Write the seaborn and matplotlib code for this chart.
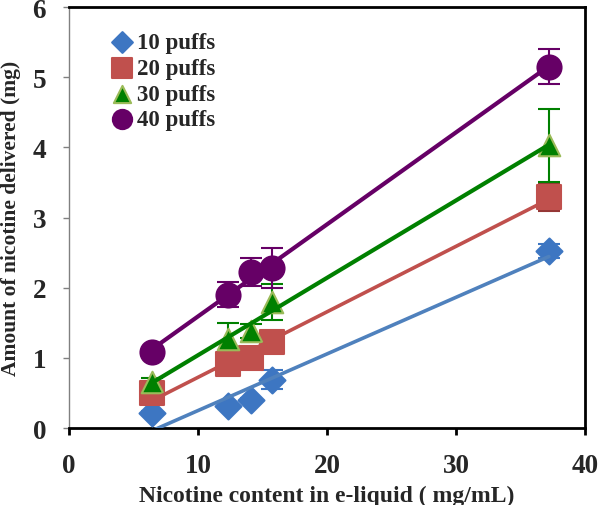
import numpy as np
import pandas as pd
import seaborn as sns
import matplotlib.pyplot as plt

# nicotine content of the e-liquids (mg/mL)
conc = [6.4, 12.3, 14.1, 15.7, 37.2]

# amount of nicotine delivered (mg) and error bars, per number of puffs
puffs10 = [0.21, 0.31, 0.40, 0.69, 2.52]
puffs10_err = [0.03, 0.03, 0.03, 0.14, 0.10]
puffs20 = [0.50, 0.92, 1.00, 1.23, 3.30]
puffs20_err = [0.05, 0.08, 0.05, 0.10, 0.20]
puffs30 = [0.65, 1.27, 1.38, 1.80, 4.03]
puffs30_err = [0.07, 0.23, 0.10, 0.26, 0.52]
puffs40 = [1.08, 1.90, 2.23, 2.28, 5.15]
puffs40_err = [0.03, 0.18, 0.20, 0.28, 0.25]

labels = ["10 puffs", "20 puffs", "30 puffs", "40 puffs"]

sns.set_style("white")
plt.rcParams['font.family'] = ['Liberation Serif', 'DejaVu Serif']
plt.rcParams['font.weight'] = 'bold'

fig = plt.figure(figsize=(6, 5.06), dpi=100)
ax = fig.add_axes([0.115, 0.152, 0.86, 0.832])

series = [
    # values, errors, marker, size, face, edge, line colour, line width, err colour
    (puffs10, puffs10_err, "D", 175, "#3D76C2", "#3D76C2", "#4F81BD", 2.6, "#3D76C2"),
    (puffs20, puffs20_err, "s", 320, "#C0504D", "#C0504D", "#C0504D", 2.6, "#953735"),
    (puffs30, puffs30_err, "^", 240, "#008000", "#9BBB59", "#008000", 3.0, "#008000"),
    (puffs40, puffs40_err, "o", 300, "#660066", "#660066", "#660066", 3.0, "#660066"),
]

for (vals, errs, mk, sz, fc, ec, lc, lw, erc), lab in zip(series, labels):
    df = pd.DataFrame({"conc": conc, "amount": vals})
    ax.errorbar(df["conc"], df["amount"], yerr=errs, fmt="none", ecolor=erc,
                elinewidth=1.5, capsize=8, capthick=1.5, zorder=2)
    sns.scatterplot(data=df, x="conc", y="amount", marker=mk, s=sz, color=fc,
                    edgecolor=ec, linewidth=1.5, label=lab, ax=ax, zorder=3)
    sns.regplot(data=df, x="conc", y="amount", scatter=False, ci=None,
                truncate=True, color=lc, line_kws={"lw": lw, "zorder": 4}, ax=ax)

ax.set_xlim(0, 40)
ax.set_ylim(0, 6)
ax.set_xticks([0, 10, 20, 30, 40])
ax.set_yticks([0, 1, 2, 3, 4, 5, 6])

ax.set_xlabel("Nicotine content in e-liquid ( mg/mL)", fontsize=17,
              fontweight="bold", labelpad=5)
ax.set_ylabel("Amount of nicotine delivered (mg)", fontsize=15.5,
              fontweight="bold", labelpad=8)

ax.tick_params(axis="x", direction="out", length=5, width=2, color="black",
               labelsize=19.5, pad=13, bottom=True)
ax.tick_params(axis="y", direction="out", length=4.5, width=1, color="#808080",
               labelsize=19.5, pad=12, left=True)
for lab in ax.get_xticklabels() + ax.get_yticklabels():
    lab.set_fontweight("bold")

for side in ["top", "right", "bottom"]:
    ax.spines[side].set_color("black")
    ax.spines[side].set_linewidth(2)
ax.spines["left"].set_color("#808080")
ax.spines["left"].set_linewidth(1)

leg = ax.legend(loc="upper left", bbox_to_anchor=(0.08, 0.94), frameon=False,
                borderaxespad=0, borderpad=0, handlelength=1.0,
                handletextpad=0.15, labelspacing=0.2, markerscale=0.8,
                prop={"size": 16.5, "weight": "bold"})

fig.savefig("out.png", dpi=100)
